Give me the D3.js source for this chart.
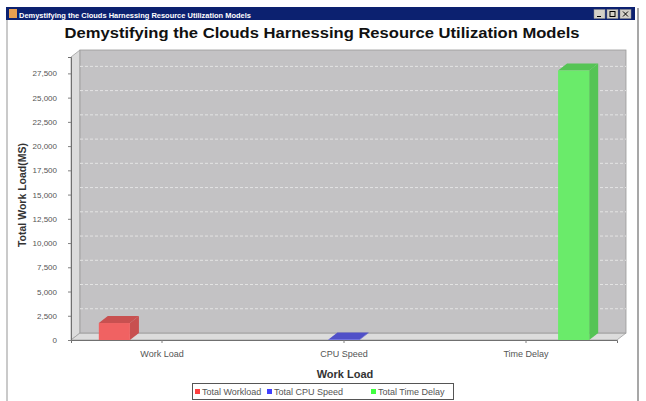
<!DOCTYPE html>
<html>
<head>
<meta charset="utf-8">
<script src="https://cdn.jsdelivr.net/npm/d3@7/dist/d3.min.js"></script>
<style>
  body { margin: 0; background: #fff; }
  svg { display: block; font-family: "Liberation Sans", Arial, sans-serif; }
</style>
</head>
<body>
<svg id="chart" width="646" height="401"></svg>
<script>
// chart data
var categories = ["Work Load", "CPU Speed", "Time Delay"];
var seriesNames = ["Total Workload", "Total CPU Speed", "Total Time Delay"];
// one value per category for each series (null = no bar)
var workload = [1750, null, null];
var cpuSpeed = [null, 60, null];
var timeDelay = [null, null, 27800];
var yTicks = [0, 2500, 5000, 7500, 10000, 12500, 15000, 17500, 20000, 22500, 25000, 27500];

var colors = ["#f06262", "#6464f2", "#6aeb6a"];
var darker = ["#c85050", "#5050c8", "#55c455"];
var legendColors = ["#ff4040", "#4040ff", "#40ff40"];

var svg = d3.select("#chart");
var W = 646, H = 401;

// window frame
svg.append("rect").attr("x", 0).attr("y", 0).attr("width", W).attr("height", H).attr("fill", "#fff");
svg.append("line").attr("x1", 7).attr("x2", 7).attr("y1", 8).attr("y2", H)
    .attr("stroke", "#b8b8b8").attr("stroke-width", 1.5);
svg.append("line").attr("x1", 638).attr("x2", 638).attr("y1", 8).attr("y2", H)
    .attr("stroke", "#8a8a8a").attr("stroke-width", 1.5);
svg.append("rect").attr("x", 6).attr("y", 7).attr("width", 629).attr("height", 13)
    .attr("fill", "#0c2170");
svg.append("rect").attr("x", 9).attr("y", 9).attr("width", 8).attr("height", 9).attr("fill", "#e8a050");
svg.append("text").attr("x", 19).attr("y", 17.5).attr("fill", "#fff")
    .attr("font-size", "8px").attr("font-weight", "bold")
    .attr("textLength", 232).attr("lengthAdjust", "spacingAndGlyphs")
    .text("Demystifying the Clouds Harnessing Resource Utilization Models");
[594, 607, 620].forEach(function(bx, i) {
    svg.append("rect").attr("x", bx).attr("y", 9.5).attr("width", 11).attr("height", 9)
        .attr("fill", "#d4d0c8").attr("stroke", "#888").attr("stroke-width", 0.5);
    var g = svg.append("g").attr("stroke", "#000").attr("stroke-width", 1).attr("fill", "none");
    if (i == 0) g.append("line").attr("x1", bx + 3).attr("x2", bx + 7).attr("y1", 16.5).attr("y2", 16.5);
    if (i == 1) g.append("rect").attr("x", bx + 3).attr("y", 11.5).attr("width", 5).attr("height", 5);
    if (i == 2) {
        g.append("line").attr("x1", bx + 3).attr("x2", bx + 8).attr("y1", 11.5).attr("y2", 16.5);
        g.append("line").attr("x1", bx + 8).attr("x2", bx + 3).attr("y1", 11.5).attr("y2", 16.5);
    }
});

// chart title
svg.append("text").attr("x", 322).attr("y", 38).attr("text-anchor", "middle")
    .attr("font-size", "15px").attr("font-weight", "bold").attr("fill", "#111")
    .attr("textLength", 515).attr("lengthAdjust", "spacingAndGlyphs")
    .text("Demystifying the Clouds Harnessing Resource Utilization Models");

// plot geometry
var pLeft = 71, pRight = 617, pTop = 57, pBottom = 340;
var dx = 9, dy = 7;
var yMax = d3.max(timeDelay) * 1.05;

var x0 = d3.scaleBand().domain(categories).range([pLeft, pRight]).padding(0);
var x1 = d3.scaleBand().domain(seriesNames).range([0, x0.bandwidth()])
    .paddingInner(0.347).paddingOuter(0.584);
var y = d3.scaleLinear().domain([0, yMax]).range([pBottom, pTop]);

// walls
svg.append("polygon")
    .attr("points", [[pLeft, pTop], [pLeft + dx, pTop - dy], [pLeft + dx, pBottom - dy], [pLeft, pBottom]].join(" "))
    .attr("fill", "#dcdcdc").attr("stroke", "#a0a0a0").attr("stroke-width", 0.8);
svg.append("polygon")
    .attr("points", [[pLeft, pBottom], [pLeft + dx, pBottom - dy], [pRight + dx, pBottom - dy], [pRight, pBottom]].join(" "))
    .attr("fill", "#dcdcdc").attr("stroke", "#a0a0a0").attr("stroke-width", 0.8);
svg.append("rect").attr("x", pLeft + dx).attr("y", pTop - dy)
    .attr("width", pRight - pLeft).attr("height", pBottom - pTop)
    .attr("fill", "#c3c2c4").attr("stroke", "#9a9a9a").attr("stroke-width", 0.8);

// gridlines on back wall
svg.append("g").selectAll("line").data(yTicks.slice(1)).enter().append("line")
    .attr("x1", pLeft + dx).attr("x2", pRight + dx)
    .attr("y1", function(d) { return y(d) - dy; })
    .attr("y2", function(d) { return y(d) - dy; })
    .attr("stroke", "#e4e4e4").attr("stroke-width", 1).attr("stroke-dasharray", "3,2");

// bars
var seriesData = [workload, cpuSpeed, timeDelay];
var bars = [];
seriesData.forEach(function(vals, s) {
    vals.forEach(function(v, c) {
        if (v != null) bars.push({ cat: categories[c], ser: seriesNames[s], s: s, value: v });
    });
});
var bw = x1.bandwidth();
var barG = svg.append("g");
bars.forEach(function(d) {
    var bx = x0(d.cat) + x1(d.ser);
    var yt = y(d.value), yb = y(0);
    // side
    barG.append("polygon")
        .attr("points", [[bx + bw, yt], [bx + bw + dx, yt - dy], [bx + bw + dx, yb - dy], [bx + bw, yb]].join(" "))
        .attr("fill", darker[d.s]);
    // top
    barG.append("polygon")
        .attr("points", [[bx, yt], [bx + dx, yt - dy], [bx + bw + dx, yt - dy], [bx + bw, yt]].join(" "))
        .attr("fill", darker[d.s]);
    // front
    barG.append("rect").attr("x", bx).attr("y", yt).attr("width", bw).attr("height", yb - yt)
        .attr("fill", colors[d.s]);
});

// axes
var yAxis = svg.append("g").attr("transform", "translate(" + pLeft + ",0)")
    .call(d3.axisLeft(y).tickValues(yTicks).tickFormat(d3.format(",")).tickSize(3).tickPadding(11));
yAxis.select(".domain").attr("stroke", "#707070");
yAxis.selectAll(".tick line").attr("stroke", "#808080");
yAxis.selectAll("text").attr("font-size", "8px").attr("fill", "#555")
    .attr("font-family", "Liberation Sans, Arial, sans-serif");

var xAxis = svg.append("g").attr("transform", "translate(0," + pBottom + ")")
    .call(d3.axisBottom(x0).tickSize(3).tickPadding(8));
xAxis.select(".domain").attr("stroke", "#707070");
xAxis.selectAll(".tick line").attr("stroke", "#808080");
xAxis.selectAll("text").attr("font-size", "9px").attr("fill", "#555")
    .attr("font-family", "Liberation Sans, Arial, sans-serif");

// axis titles
svg.append("text").attr("transform", "translate(26,195) rotate(-90)")
    .attr("text-anchor", "middle").attr("font-size", "10.5px").attr("font-weight", "bold").attr("fill", "#333")
    .text("Total Work Load(MS)");
svg.append("text").attr("x", 345).attr("y", 378).attr("text-anchor", "middle")
    .attr("font-size", "11px").attr("font-weight", "bold").attr("fill", "#333")
    .text("Work Load");

// legend
var legend = svg.append("g");
legend.append("rect").attr("x", 192.5).attr("y", 383.5).attr("width", 261).attr("height", 16)
    .attr("fill", "#fff").attr("stroke", "#555").attr("stroke-width", 1);
var legX = [195, 267, 371];
seriesNames.forEach(function(name, i) {
    legend.append("rect").attr("x", legX[i]).attr("y", 389).attr("width", 5).attr("height", 5)
        .attr("fill", legendColors[i]);
    legend.append("text").attr("x", legX[i] + 7).attr("y", 395)
        .attr("font-size", "9px").attr("fill", "#555").text(name);
});
</script>
</body>
</html>
